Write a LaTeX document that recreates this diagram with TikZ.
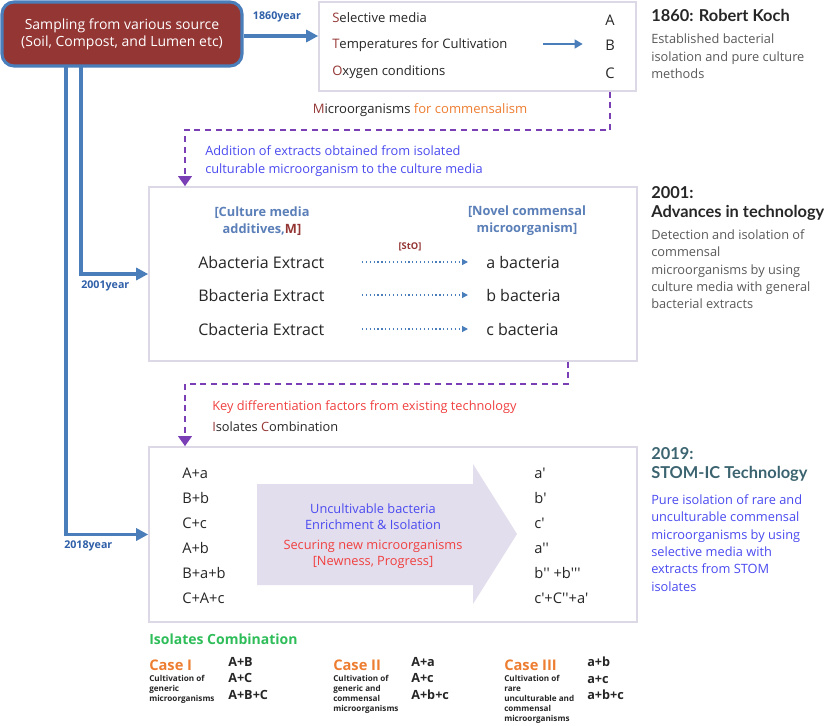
\documentclass[tikz,border=0pt]{standalone}
\usepackage{fontspec}
\setmainfont{Open Sans}
\newfontfamily\hfont{Lato}
\usetikzlibrary{arrows.meta,calc}
\definecolor{dred}{HTML}{943634}
\definecolor{boxblue}{HTML}{4A7EBB}
\definecolor{yearblue}{HTML}{2E5FA8}
\definecolor{lborder}{HTML}{DCD8E6}
\definecolor{purp}{HTML}{7B3FB5}
\definecolor{vblue}{HTML}{4A4AF0}
\definecolor{sblue}{HTML}{5B7FB8}
\definecolor{kred}{HTML}{F04040}
\definecolor{orng}{HTML}{ED7D31}
\definecolor{grn}{HTML}{2EBD59}
\definecolor{teal}{HTML}{3B6470}
\definecolor{dtext}{HTML}{262626}
\definecolor{gtext}{HTML}{595959}
\definecolor{arrfill}{HTML}{E3DEED}
\newcommand{\q}{\textquotesingle}
\begin{document}
\begin{tikzpicture}[x=0.75pt,y=-0.75pt,
  every node/.style={inner sep=0pt, text=dtext},
  lt/.style={anchor=west},
  panel/.style={draw=lborder, line width=1.2pt, fill=white},
  bluearrow/.style={draw=boxblue, line width=2.3pt, -{Triangle[length=9pt,width=9pt]}},
  pdash/.style={draw=purp, line width=2pt, dash pattern=on 4.5pt off 3.5pt, -{Triangle[length=7.5pt,width=10pt]}},
  dotarrow/.style={draw=boxblue, line width=0.9pt, dotted, -{Triangle[length=4.5pt,width=4.5pt]}},
  yearlbl/.style={text=yearblue, font=\fontsize{8}{10}\selectfont\bfseries},
  rowtxt/.style={anchor=west, font=\fontsize{12}{14}\selectfont},
  combtxt/.style={anchor=west, font=\fontsize{11}{13}\selectfont},
  casehd/.style={anchor=west, text=orng, font=\fontsize{11}{13}\selectfont\bfseries},
  casedesc/.style={anchor=north west, align=left, font=\fontsize{6.1}{7.5}\selectfont\bfseries},
  caseform/.style={anchor=north west, align=left, font=\fontsize{9.5}{12.4}\selectfont\bfseries},
  rhead/.style={anchor=north west, align=left, font=\hfont\fontsize{12.3}{14.3}\selectfont\bfseries},
  rdesc/.style={anchor=north west, align=left, font=\fontsize{9.6}{13.1}\selectfont}
]
\useasboundingbox (0,0) rectangle (824,725);

% ---------- source box ----------
\node[draw=boxblue, line width=2.3pt, fill=dred, rounded corners=9pt,
      minimum width=180pt, minimum height=48pt, align=center, text=white,
      font=\fontsize{10.5}{12.75}\selectfont] (samp) at (122,34)
      {Sampling from various source\\(Soil, Compost, and Lumen etc)};

% ---------- 1860 box ----------
\node[panel, minimum width=237.75pt, minimum height=66.75pt] (koch) at (477.5,46.5) {};
\node[lt, font=\fontsize{9.8}{12}\selectfont] (s1) at (332,18) {\textcolor{dred}{S}elective media};
\node[lt, font=\fontsize{9.8}{12}\selectfont] (s2) at (332,45) {\textcolor{dred}{T}emperatures for Cultivation};
\node[lt, font=\fontsize{9.8}{12}\selectfont] (s3) at (332,72) {\textcolor{dred}{O}xygen conditions};
\node[font=\fontsize{11}{13}\selectfont, minimum width=10.5pt] (nA) at (610,20) {A};
\node[font=\fontsize{11}{13}\selectfont, minimum width=10.5pt] (nB) at (610,45) {B};
\node[font=\fontsize{11}{13}\selectfont, minimum width=10.5pt] (nC) at (610,73) {C};
\coordinate (bs) at (543,44);
\draw[draw=boxblue, line width=2pt, -{Triangle[length=6pt,width=6.5pt]}, shorten >=15pt] (bs) -- (bs -| nB.west);

\draw[bluearrow] (samp.east |- 0,36) -- (koch.west |- 0,36);
\node[yearlbl] (y1860) at (277,17) {1860year};

\node[font=\fontsize{9.8}{12}\selectfont] (micro) at (420,110)
  {\textcolor{dred}{M}icroorganisms \textcolor{orng}{for commensalism}};

% ---------- dashed connector 1 ----------
\coordinate (kx) at (610,0);
\coordinate (ax) at (185,0);
\coordinate (m1) at (0,130);

\node[lt, align=left, text=vblue, font=\fontsize{9.6}{13.5}\selectfont] (addn) at (205,161)
  {Addition of extracts obtained from isolated\\culturable microorganism to the culture media};

% ---------- 2001 box ----------
\node[panel, minimum width=366pt, minimum height=130.5pt] (box2) at (393,274) {};
\draw[pdash] (kx |- koch.south) -- (kx |- m1) -- (ax |- m1) -- (ax |- box2.north);

\node[align=center, text=sblue, font=\fontsize{9.6}{12.75}\selectfont\bfseries] (hdl) at (262,221)
  {[Culture media\\additives,\textcolor{dred}{M]}};
\node[align=center, text=sblue, font=\fontsize{9.6}{12.75}\selectfont\bfseries] (hdr) at (527,221)
  {[Novel commensal\\microorganism]};
\node[text=dred, font=\fontsize{7}{8}\selectfont\bfseries] (sto) at (410,247) {[StO]};

\node[rowtxt] (ae) at (198,262) {Abacteria Extract};
\node[rowtxt] (be) at (198,295) {Bbacteria Extract};
\node[rowtxt] (ce) at (198,329) {Cbacteria Extract};
\node[rowtxt] (ab) at (486,262) {a bacteria};
\node[rowtxt] (bb) at (486,295) {b bacteria};
\node[rowtxt] (cb) at (486,329) {c bacteria};
\coordinate (dx) at (362,0);
\draw[dotarrow, shorten >=13.5pt] (dx |- ab.west) -- (ab.west);
\draw[dotarrow, shorten >=13.5pt] (dx |- bb.west) -- (bb.west);
\draw[dotarrow, shorten >=13.5pt] (dx |- cb.west) -- (cb.west);

% ---------- blue year lines ----------
\coordinate (v1) at (81,66);
\coordinate (v2) at (66,66);
\draw[bluearrow] (v1) |- (box2.west);
\node[yearlbl, lt] (y2001) at (81,286) {2001year};

% ---------- 2019 box ----------
\node[panel, minimum width=366pt, minimum height=131.25pt] (box3) at (393,534.5) {};
\draw[bluearrow] (v2) |- (box3.west);
\node[yearlbl, lt] (y2018) at (64,546) {2018year};

\coordinate (qx) at (568,0);
\coordinate (m2) at (0,384);
\draw[pdash] (qx |- box2.south) -- (qx |- m2) -- (ax |- m2) -- (ax |- box3.north);

\node[lt, text=kred, font=\fontsize{9.6}{12}\selectfont] (keyd) at (212,407)
  {Key differentiation factors from existing technology};
\node[lt, font=\fontsize{9.6}{12}\selectfont] (isoc) at (212,427)
  {\textcolor{dred}{I}solates \textcolor{dred}{C}ombination};

\fill[arrfill] (257,484) -- (473,484) -- (473,464) -- (517,534) -- (473,604) -- (473,585) -- (257,585) -- cycle;
\node[align=center, text=vblue, font=\fontsize{9.6}{12}\selectfont] (unc) at (373,517)
  {Uncultivable bacteria\\Enrichment \& Isolation};
\node[align=center, text=kred, font=\fontsize{9.6}{12}\selectfont] (sec) at (373,554)
  {Securing new microorganisms\\{[}Newness, Progress{]}};

\node[combtxt] (l1) at (182,473) {A+a};
\node[combtxt] (l2) at (182,498) {B+b};
\node[combtxt] (l3) at (182,523) {C+c};
\node[combtxt] (l4) at (182,548) {A+b};
\node[combtxt] (l5) at (182,573) {B+a+b};
\node[combtxt] (l6) at (182,598) {C+A+c};
\node[combtxt] (r1) at (534,473) {a\q};
\node[combtxt] (r2) at (534,498) {b\q};
\node[combtxt] (r3) at (534,523) {c\q};
\node[combtxt] (r4) at (534,548) {a\q\q};
\node[combtxt] (r5) at (534,573) {b\q\q{} +b\q\q\q};
\node[combtxt] (r6) at (534,598) {c\q+C\q\q+a\q};

% ---------- bottom cases ----------
\node[lt, text=grn, font=\fontsize{10.5}{12}\selectfont\bfseries] (isog) at (149,639) {Isolates Combination};

\node[casehd] (c1) at (149,665) {Case I};
\node[casedesc] (c1d) at (149,675) {Cultivation of\\generic\\microorganisms};
\node[caseform] (c1f) at (228,657) {A+B\\A+C\\A+B+C};

\node[casehd] (c2) at (333,665) {Case II};
\node[casedesc] (c2d) at (333,675) {Cultivation of\\generic and\\commensal\\microorganisms};
\node[caseform] (c2f) at (411,657) {A+a\\A+c\\A+b+c};

\node[casehd] (c3) at (504,665) {Case III};
\node[casedesc] (c3d) at (504,675) {Cultivation of\\rare\\unculturable and\\commensal\\microorganisms};
\node[caseform] (c3f) at (587,657) {a+b\\a+c\\a+b+c};

% ---------- right panel ----------
\node[rhead] (h1) at (651,9) {1860: Robert Koch};
\node[rdesc, text=gtext] (d1) at (651,34) {Established bacterial\\isolation and pure culture\\methods};

\node[rhead] (h2) at (651,186) {2001:\\Advances in technology};
\node[rdesc, text=gtext] (d2) at (651,229) {Detection and isolation of\\commensal\\microorganisms by using\\culture media with general\\bacterial extracts};

\node[rhead, text=teal] (h3) at (651,447) {2019:\\STOM-IC Technology};
\node[rdesc, text=vblue] (d3) at (651,494) {Pure isolation of rare and\\unculturable commensal\\microorganisms by using\\selective media with\\extracts from STOM\\isolates};
\end{tikzpicture}
\end{document}
